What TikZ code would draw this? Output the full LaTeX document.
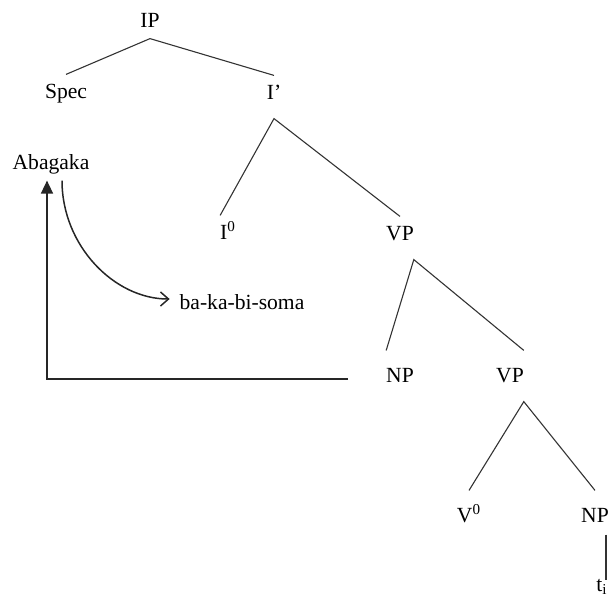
\documentclass[tikz,border=0pt]{standalone}
\usepackage{fontspec}
\setmainfont{Liberation Serif}
\usetikzlibrary{positioning,arrows.meta}

\begin{document}
\begin{tikzpicture}[
    x=0.5pt, y=-0.5pt,
    cat/.style={inner sep=0pt,outer xsep=0pt,outer ysep=5.5pt,text height=0.66em,text depth=0pt,font=\fontsize{10.8}{13}\selectfont},
    br/.style={draw=black!80,line width=0.55pt},
    mv/.style={draw=black!85,line width=0.75pt}
  ]
    \useasboundingbox (0,0) rectangle (616,596);

    % Top: IP and its daughters
    \node[cat] (ip) at (150,21) {IP};
    \node[cat] (spec) at (66,92) {Spec};
    \node[cat] (ibar) at (274,93) {I’};

    % Second level
    \node[cat] (abagaka) at (51,163) {Abagaka};
    \node[cat] (i0) at (228,233) {I\textsuperscript{0}};
    \node[cat] (vp) at (400,234) {VP};
    \node[cat] (soma) at (242,303) {ba-ka-bi-soma};

    % Lower VP
    \node[cat] (np) at (400,376) {NP};
    \node[cat] (vpb) at (510,376) {VP};
    \node[cat] (v0) at (469,516) {V\textsuperscript{0}};
    \node[cat] (npb) at (595,516) {NP};
    \node[cat] (trace) at (602,585) {t\textsubscript{i}};

    % Branches
    \draw[br] (spec.north) -- (ip.south) -- (ibar.north);
    \draw[br] (i0.north west) -- ([yshift=-4pt]ibar.south) -- (vp.north);
    \draw[br] ([yshift=4pt]np.north west) -- ([yshift=-4pt]vp.south east) -- ([yshift=4pt]vpb.north east);
    \draw[br] ([yshift=4pt]v0.north) -- ([yshift=-4pt]vpb.south east) -- ([yshift=4pt]npb.north);
    \draw[br,line width=0.7pt] ([xshift=-1.5pt,yshift=-0.5pt]npb.south east) -- ([xshift=-1.5pt,yshift=-6.5pt]npb.south east |- trace.north);

    % Movement
    \draw[mv,-{Triangle[width=6pt,length=6.5pt]}] ([xshift=-19pt,yshift=-1.5pt]np.west) -| ([xshift=-2pt]abagaka.south);
    \draw[mv,-{Straight Barb[width=7pt,length=4pt]},shorten >=5pt] ([xshift=5.5pt]abagaka.south) to[out=-90,in=180] ([yshift=2pt]soma.west);
  \end{tikzpicture}
\end{document}
